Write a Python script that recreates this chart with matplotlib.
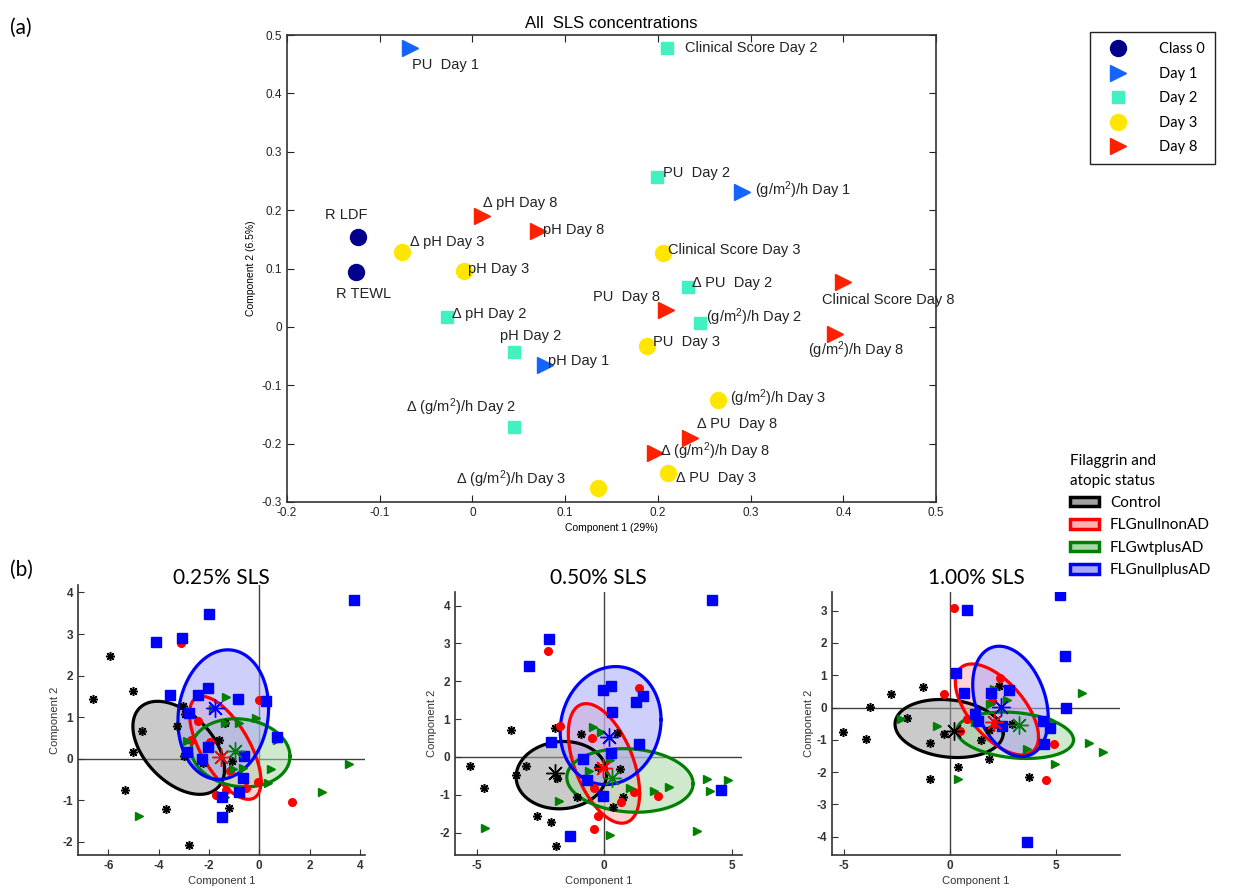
import matplotlib
matplotlib.use('Agg')
import matplotlib.pyplot as plt
import numpy as np
from matplotlib.lines import Line2D
from matplotlib.patches import Patch

plt.rcParams['font.family'] = ['Liberation Sans', 'DejaVu Sans']
plt.rcParams['mathtext.default'] = 'regular'
plt.rcParams['axes.unicode_minus'] = False

D = '\u0394'
GM = '(g/m$^2$)/h'

# ---- panel (a) data ----
class0_lab = ['R LDF', 'R TEWL']
class0_x = [-0.123, -0.126]
class0_y = [0.154, 0.094]

day1_lab = ['PU  Day 1', GM + ' Day 1', 'pH Day 1']
day1_x = [-0.067, 0.291, 0.078]
day1_y = [0.478, 0.231, -0.065]

day2_lab = ['Clinical Score Day 2', 'PU  Day 2', D + ' PU  Day 2', GM + ' Day 2',
            D + ' pH Day 2', 'pH Day 2', D + ' ' + GM + ' Day 2']
day2_x = [0.210, 0.199, 0.233, 0.245, -0.027, 0.045, 0.045]
day2_y = [0.478, 0.257, 0.068, 0.007, 0.017, -0.043, -0.171]

day3_lab = [D + ' pH Day 3', 'pH Day 3', 'Clinical Score Day 3', 'PU  Day 3',
            GM + ' Day 3', D + ' PU  Day 3', D + ' ' + GM + ' Day 3']
day3_x = [-0.076, -0.009, 0.206, 0.188, 0.265, 0.211, 0.135]
day3_y = [0.128, 0.096, 0.127, -0.032, -0.125, -0.250, -0.276]

day8_lab = [D + ' pH Day 8', 'pH Day 8', 'PU  Day 8', 'Clinical Score Day 8',
            GM + ' Day 8', D + ' PU  Day 8', D + ' ' + GM + ' Day 8']
day8_x = [0.010, 0.071, 0.209, 0.400, 0.391, 0.235, 0.197]
day8_y = [0.190, 0.164, 0.029, 0.077, -0.012, -0.190, -0.216]

# label offsets in pixels (dx, dy, ha)
class0_off = [(-12, 22, 'center'), (8, -22, 'center')]
day1_off = [(2, -17, 'left'), (13, 2, 'left'), (3, 4, 'left')]
day2_off = [(18, 0, 'left'), (6, 4, 'left'), (4, 4, 'left'), (6, 6, 'left'),
            (5, 3, 'left'), (-14, 16, 'left'), (-108, 19, 'left')]
day3_off = [(8, 10, 'left'), (4, 2, 'left'), (5, 3, 'left'), (6, 4, 'left'),
            (12, 2, 'left'), (8, -5, 'left'), (-142, 9, 'left')]
day8_off = [(1, 13, 'left'), (5, 1, 'left'), (-6, 13, 'right'), (-21, -18, 'left'),
            (-27, -16, 'left'), (7, 14, 'left'), (5, 2, 'left')]

# ---- panel (b) data: 0.25% SLS ----
ctrl25_x = [-5.93, -6.59, -5.03, -4.65, -5.01, -5.34, -3.69, -2.79, -1.22, -3.03,
            -2.93, -3.26, -3.00, -2.23, -1.37, -1.60, -1.10]
ctrl25_y = [2.46, 1.44, 1.64, 0.66, 0.16, -0.76, -1.21, -2.09, -1.18, 1.26,
            1.08, 0.78, 0.06, -0.10, 0.86, 0.45, -0.05]
nonad25_x = [-3.10, -0.01, -2.43, -2.72, -1.94, -1.18, -0.05, -1.70, 1.29, -0.52, -1.31]
nonad25_y = [2.78, 1.40, 0.91, 0.46, 0.39, -0.30, -0.57, -0.87, -1.05, -0.71, -0.75]
wtad25_x = [-1.31, -1.84, -0.81, -1.37, -0.12, 0.71, -0.65, 0.45, 0.34, 2.50, 3.58,
            -4.77, -1.37, -1.04, -2.89]
wtad25_y = [1.48, 1.20, 0.86, 0.86, 0.98, 0.46, -0.22, -0.25, -0.59, -0.80, -0.12,
            -1.37, -0.92, -0.26, 0.42]
nullad25_x = [3.78, -1.99, -4.12, -3.05, -3.53, -2.05, -2.43, -0.85, -2.79, 0.25, 0.70,
              -2.03, -2.26, -2.89, -0.62, -0.65, -0.81, -1.47, -1.48]
nullad25_y = [3.83, 3.49, 2.80, 2.90, 1.52, 1.70, 1.54, 1.44, 1.11, 1.38, 0.52,
              0.27, 0.00, 0.15, 0.07, -0.47, -0.80, -0.92, -1.41]
cent25_x = [np.nan, -1.51, -0.98, -1.77]
cent25_y = [np.nan, 0.04, 0.18, 1.22]
# ellipses: cx, cy, rx, ry, rho  (control, nonAD, wtplusAD, nullplusAD)
ell25 = [(-3.20, 0.26, 1.82, 1.12, -0.46), (-1.35, 0.26, 1.42, 1.24, -0.65),
         (-0.74, 0.14, 1.96, 0.82, -0.10), (-1.43, 1.06, 1.80, 1.56, 0.10)]

# ---- 0.50% SLS ----
ctrl50_x = [-5.29, -4.74, -3.66, -3.08, -1.86, -2.65, -2.10, -1.90, -1.93, -0.92,
            0.50, -0.26, 0.63, -1.07, 0.34, 0.72, -3.46]
ctrl50_y = [-0.23, -0.83, 0.71, -0.23, -0.56, -1.57, -1.71, -2.35, 0.76, 0.62,
            0.64, -0.27, -0.33, -1.06, -1.31, -1.06, -0.47]
nonad50_x = [-2.21, 1.38, -1.73, -0.48, -0.42, 1.15, 0.67, 2.10, -0.25, -0.39]
nonad50_y = [2.81, 1.83, 0.82, 0.49, -0.81, -0.93, -1.20, -1.03, -1.57, -1.91]
wtad50_x = [-0.45, -0.12, 0.24, -0.58, 1.02, 1.94, 2.54, 4.04, 4.86, 4.17, 3.64,
            0.21, -4.67, -1.78]
wtad50_y = [0.80, 0.67, -0.08, -0.36, -0.81, -0.91, -0.78, -0.58, -0.61, -0.91, -1.95,
            -2.06, -1.88, -1.15]
nullad50_x = [4.23, -2.15, -2.95, -0.03, 0.26, 1.52, 1.26, 0.30, 1.38, -2.08, -0.84,
              0.26, -0.68, -0.03, 4.60, -1.34]
nullad50_y = [4.14, 3.12, 2.40, 1.77, 1.87, 1.61, 1.46, 1.20, 0.34, 0.40, -0.05,
              0.11, -0.61, -1.03, -0.87, -2.10]
cent50_x = [-1.93, -0.05, 0.30, 0.17]
cent50_y = [-0.41, -0.30, -0.56, 0.54]
ell50 = [(-1.68, -0.48, 1.78, 0.89, 0.05), (-0.01, -0.17, 1.40, 1.58, -0.50),
         (1.01, -0.62, 2.48, 0.84, -0.10), (0.25, 0.83, 1.98, 1.56, 0.10)]

# ---- 1.00% SLS ----
ctrl100_x = [-5.07, -3.96, -3.77, -2.79, -1.30, -2.04, -0.97, -0.31, -0.97, 0.35,
             1.82, 1.44, 1.81, 2.32, 2.90, 3.69]
ctrl100_y = [-0.77, -0.98, 0.02, 0.41, 0.64, -0.31, -1.09, -0.83, -2.22, -1.84,
             -1.61, -1.01, -0.70, 0.67, -0.50, -2.15]
nonad100_x = [0.20, -0.27, 2.35, 1.99, 0.47, 0.78, 4.87, 4.52, 2.12]
nonad100_y = [3.09, 0.43, 0.90, 0.21, -0.73, -0.37, -1.14, -2.25, -0.50]
wtad100_x = [6.20, 6.56, 7.19, 4.95, 0.39, -0.63, -2.31, 2.07, 2.67, 1.18, 1.88,
             3.61, 4.71]
wtad100_y = [0.45, -1.09, -1.39, -1.75, -2.20, -0.57, -0.35, 0.56, 0.23, -0.44, 0.12,
             -1.30, -0.39]
nullad100_x = [0.78, 5.18, 5.43, 5.46, 0.25, 0.66, 1.92, 2.75, 1.19, 1.30, 2.42,
               4.35, 4.68, 4.44, 3.64]
nullad100_y = [3.01, 3.48, 1.59, -0.01, 1.07, 0.46, 0.46, 0.54, -0.21, -0.42, -0.58,
               -0.41, -0.62, -1.14, -4.16]
cent100_x = [0.16, 2.07, 3.22, 2.40]
cent100_y = [-0.72, -0.46, -0.55, 0.02]
ell100 = [(-0.05, -0.65, 2.55, 0.90, -0.15), (2.20, -0.06, 1.96, 1.41, -0.60),
          (3.06, -0.86, 2.75, 0.72, -0.20), (2.84, 0.19, 1.78, 1.71, -0.30)]

group_names = ['Control', 'FLGnullnonAD', 'FLGwtplusAD', 'FLGnullplusAD']
edge_cols = ['black', '#ff0000', '#008000', '#0000ff']
fill_cols = ['#a0a0a0', '#ffb0b0', '#a8d8a8', '#a8a8f8']

W, H = 1235, 890
fig = plt.figure(figsize=(W / 100, H / 100), dpi=100)


def fax(l, t, r, b):
    return fig.add_axes([l / W, 1 - b / H, (r - l) / W, (b - t) / H])


# ---------------- panel (a) ----------------
ax = fax(287, 35, 936, 502)
groups_a = [
    (class0_x, class0_y, class0_lab, class0_off, 'o', '#00008b', 11.5),
    (day1_x, day1_y, day1_lab, day1_off, '>', '#1464ff', 11),
    (day2_x, day2_y, day2_lab, day2_off, 's', '#40f2c0', 8.5),
    (day3_x, day3_y, day3_lab, day3_off, 'o', '#ffe600', 11.5),
    (day8_x, day8_y, day8_lab, day8_off, '>', '#ff2000', 11),
]
for gx, gy, glab, goff, mk, col, ms in groups_a:
    ax.plot(gx, gy, ls='none', marker=mk, color=col, ms=ms, mec=col)
    for xx, yy, lb, (dx, dy, ha) in zip(gx, gy, glab, goff):
        ax.annotate(lb, (xx, yy), xytext=(dx, dy), textcoords='offset pixels',
                    ha=ha, va='center', fontsize=10.5, color='#222222')
ax.set_xlim(-0.2, 0.5)
ax.set_ylim(-0.3, 0.5)
ax.set_xticks(np.arange(-0.2, 0.51, 0.1))
ax.set_yticks(np.arange(-0.3, 0.51, 0.1))
ax.set_xticklabels(['-0.2', '-0.1', '0', '0.1', '0.2', '0.3', '0.4', '0.5'])
ax.set_yticklabels(['-0.3', '-0.2', '-0.1', '0', '0.1', '0.2', '0.3', '0.4', '0.5'])
ax.tick_params(direction='in', top=True, right=True, labelsize=8.5, length=5,
               colors='#222222')
for s in ax.spines.values():
    s.set_color('#333333')
    s.set_linewidth(1.2)
ax.set_xlabel('Component 1 (29%)', fontsize=7.5, labelpad=3)
ax.set_ylabel('Component 2 (6.5%)', fontsize=7.5, labelpad=4)
ax.set_title('All  SLS concentrations', fontsize=12, pad=5)

leg_a = [Line2D([], [], ls='none', marker=g[4], color=g[5], ms=g[6]) for g in groups_a]
fig.legend(leg_a, ['Class 0', 'Day 1', 'Day 2', 'Day 3', 'Day 8'],
           loc='upper left', bbox_to_anchor=(1090 / W, 1 - 32 / H), borderaxespad=0,
           fancybox=False, edgecolor='#222222', framealpha=1, labelspacing=0.72,
           prop={'family': 'Lato', 'size': 10.5}, handletextpad=1.6, borderpad=0.7,
           handlelength=2.4)

fig.text(10 / W, 1 - 28 / H, '(a)', fontsize=15, family='Lato', va='center')
fig.text(10 / W, 1 - 570 / H, '(b)', fontsize=15, family='Lato', va='center')


# ---------------- panel (b) ----------------
def ellipse_xy(cx, cy, rx, ry, rho):
    t = np.linspace(0, 2 * np.pi, 300)
    d = np.arccos(rho)
    return cx + rx * np.cos(t), cy + ry * np.cos(t - d)


panels = [
    ((78, 585, 365, 855), '0.25% SLS', (-7.2, 4.2), (-2.32, 4.18),
     [-6, -4, -2, 0, 2, 4], [-2, -1, 0, 1, 2, 3, 4],
     [(ctrl25_x, ctrl25_y), (nonad25_x, nonad25_y), (wtad25_x, wtad25_y), (nullad25_x, nullad25_y)],
     cent25_x, cent25_y, ell25),
    ((455, 592, 742, 855), '0.50% SLS', (-5.86, 5.41), (-2.59, 4.36),
     [-5, 0, 5], [-2, -1, 0, 1, 2, 3, 4],
     [(ctrl50_x, ctrl50_y), (nonad50_x, nonad50_y), (wtad50_x, wtad50_y), (nullad50_x, nullad50_y)],
     cent50_x, cent50_y, ell50),
    ((832, 592, 1120, 855), '1.00% SLS', (-5.57, 8.0), (-4.57, 3.58),
     [-5, 0, 5], [-4, -3, -2, -1, 0, 1, 2, 3],
     [(ctrl100_x, ctrl100_y), (nonad100_x, nonad100_y), (wtad100_x, wtad100_y), (nullad100_x, nullad100_y)],
     cent100_x, cent100_y, ell100),
]
pt_markers = [((8, 2, 0), 6.5), ('o', 5.5), ('>', 6), ('s', 6.5)]

for box, title, xl, yl, xt, yt, pts, cxs, cys, ells in panels:
    bx = fax(*box)
    bx.axhline(0, color='#404040', lw=1, zorder=1)
    bx.axvline(0, color='#404040', lw=1, zorder=1)
    for (e, fc) in zip(ells, fill_cols):
        ex, ey = ellipse_xy(*e)
        bx.fill(ex, ey, color=fc, alpha=0.55, lw=0, zorder=2)
    for (gx, gy), (mk, ms), col in zip(pts, pt_markers, edge_cols):
        if mk == (8, 2, 0):
            bx.plot(gx, gy, ls='none', marker=mk, ms=ms, color='black', mew=1.1, zorder=4)
        else:
            bx.plot(gx, gy, ls='none', marker=mk, ms=ms, color=col, mec=col, zorder=4)
    for e, col in zip(ells, edge_cols):
        ex, ey = ellipse_xy(*e)
        bx.plot(ex, ey, color=col, lw=2.3, zorder=3)
    for cx, cy, col in zip(cxs, cys, edge_cols):
        bx.plot([cx], [cy], ls='none', marker=(8, 2, 0), ms=13, color=col, mew=1, zorder=5)
    bx.set_xlim(*xl)
    bx.set_ylim(*yl)
    bx.set_xticks(xt)
    bx.set_yticks(yt)
    bx.spines['top'].set_visible(False)
    bx.spines['right'].set_visible(False)
    for s in ['left', 'bottom']:
        bx.spines[s].set_color('#333333')
        bx.spines[s].set_linewidth(1.2)
    bx.tick_params(direction='in', labelsize=8.5, length=4, colors='#333333')
    for lb in bx.get_xticklabels() + bx.get_yticklabels():
        lb.set_fontweight('bold')
    bx.set_xlabel('Component 1', fontsize=8, color='#333333', labelpad=3)
    bx.set_ylabel('Component 2', fontsize=8, color='#333333', labelpad=2)
    fig.text((box[0] + box[2]) / 2 / W, 1 - 578 / H, title, fontsize=15, family='Lato',
             ha='center', va='center')

leg_b = [Patch(facecolor=fc, edgecolor=ec, lw=2.5) for fc, ec in zip(fill_cols, edge_cols)]
lg = fig.legend(leg_b, group_names, loc='upper left', bbox_to_anchor=(1064 / W, 1 - 448 / H),
                frameon=False, title='Filaggrin and\natopic status', borderaxespad=0,
                prop={'family': 'Lato', 'size': 11}, handlelength=1.9, handleheight=0.6,
                labelspacing=0.55, handletextpad=0.7)
lg.get_title().set_fontsize(11)
lg.get_title().set_family('Lato')
lg.get_title().set_linespacing(1.5)
lg._legend_box.align = 'left'

fig.savefig('out.png', dpi=100)
